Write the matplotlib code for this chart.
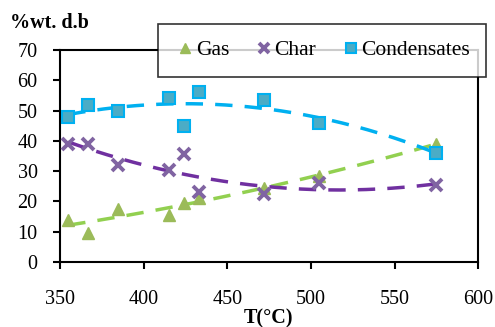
import numpy as np
import matplotlib
matplotlib.use('Agg')
import matplotlib.pyplot as plt

# temperatures (degC)
temp = [355, 367, 385, 415, 424, 433, 472, 505, 575]
# yields %wt dry basis
gas = [14, 9.5, 17.5, 15.5, 19.5, 21, 24.5, 28.5, 39]
char = [39, 39, 32, 30.5, 35.5, 23, 22.5, 26, 25.5]
cond = [48, 52, 50, 54, 45, 56, 53.5, 46, 36]

plt.rcParams['font.family'] = ['Liberation Serif', 'DejaVu Serif']
plt.rcParams['font.size'] = 14.5

fig = plt.figure(figsize=(4.95, 3.27), dpi=100)
ax = fig.add_axes([0.121, 0.199, 0.845, 0.648])

t = np.array(temp, dtype=float)
tt = np.linspace(t.min(), t.max(), 200)

#trendlines (2nd order poly, like excel)
for y, c in [(gas, '#92D050'), (char, '#7030A0'), (cond, '#00B0F0')]:
    p = np.polyfit(t, y, 2)
    ax.plot(tt, np.polyval(p, tt), color=c, lw=2.5, ls=(0, (5, 3.5)), zorder=2)

ax.plot(temp, gas, ls='none', marker='^', ms=9, color='#9BBB59', label='Gas', zorder=3)
ax.plot(temp, char, ls='none', marker='x', ms=8, mew=2.8, color='#8064A2', label='Char', zorder=3)
ax.plot(temp, cond, ls='none', marker='s', ms=8, mfc='#4BACC6', mec='#00B0F0', mew=1.5,
        label='Condensates', zorder=3)

ax.set_xlim(350, 600)
ax.set_ylim(0, 70)
ax.set_xticks(range(350, 601, 50))
ax.set_yticks(range(0, 71, 10))
ax.tick_params(direction='out', length=5, width=1.5, colors='black', labelsize=14.5)
ax.tick_params(axis='x', pad=15)
ax.tick_params(axis='y', pad=11)
for s in ax.spines.values():
    s.set_linewidth(1.5)

fig.text(0.543, 0.012, 'T(°C)', ha='center', fontweight='bold', fontsize=14.5)
fig.text(0.02, 0.915, '%wt. d.b', fontweight='bold', fontsize=14.5)

leg = fig.legend(loc='center', bbox_to_anchor=(0.651, 0.846), ncol=3, frameon=True,
                 fancybox=False, handletextpad=0.0, columnspacing=1.1, handlelength=1.0,
                 borderpad=0.75, markerscale=0.85, fontsize=15.5)
leg.get_frame().set_edgecolor('black')
leg.get_frame().set_linewidth(1.2)

fig.savefig('out.png', dpi=100)
